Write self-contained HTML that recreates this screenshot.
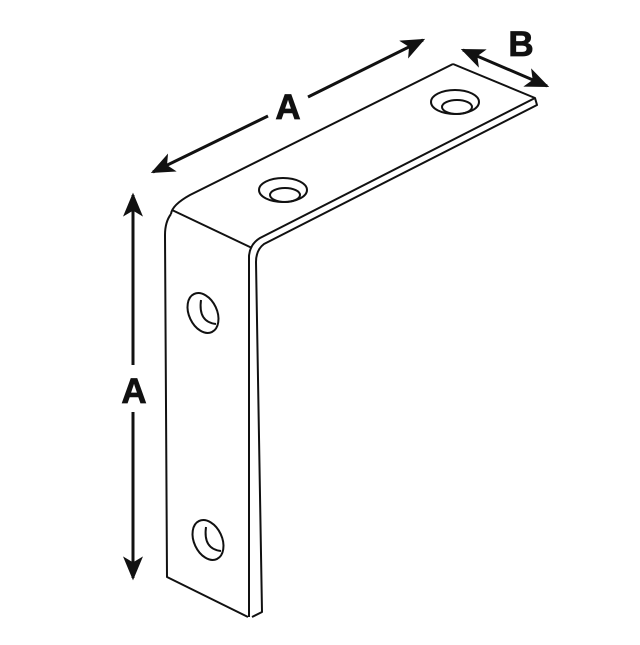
<!DOCTYPE html>
<html><head><style>body{margin:0;background:#fff}</style></head><body>
<svg width="640" height="640" viewBox="0 0 640 640" xmlns="http://www.w3.org/2000/svg">
<defs>
<marker id="ah" viewBox="0 0 10 10" refX="9" refY="5" markerWidth="24" markerHeight="20" orient="auto-start-reverse" markerUnits="userSpaceOnUse" preserveAspectRatio="none">
<path d="M0,0 L10,5 L0,10 L2.5,5 Z" fill="#111"/></marker>
</defs>
<rect width="640" height="640" fill="#fff"/>
<g fill="none" stroke="#111" stroke-width="2" stroke-linejoin="round">
<path d="M453,64 L535,98 L537,105 L264,244 Q256,250 256,262 L262,612 L252,617"/>
<path d="M535,98 L260,238 Q250,244 249,256 L249,617"/>
<path d="M453,64 L190,195 Q172,205 171,214"/>
<path d="M172,210 L252,248"/>
<path d="M171,214 Q165,222 165,235 L167,577 L248,617"/>
<ellipse cx="283" cy="190" rx="24" ry="12"/>
<ellipse cx="285" cy="195" rx="15" ry="7"/>
<ellipse cx="455" cy="102" rx="24" ry="12"/>
<ellipse cx="457" cy="107" rx="15" ry="7"/>
<ellipse cx="203" cy="313" rx="14" ry="21" transform="rotate(-25 203 313)"/>
<path d="M201,300 Q198,322 216,324"/>
<ellipse cx="208" cy="540" rx="14" ry="21" transform="rotate(-25 208 540)"/>
<path d="M206,527 Q203,549 221,551"/>
</g>
<g stroke="#111" stroke-width="3">
<line x1="153" y1="172" x2="268" y2="116" marker-start="url(#ah)"/>
<line x1="308" y1="97" x2="423" y2="40" marker-end="url(#ah)"/>
<line x1="133" y1="195" x2="133" y2="365" marker-start="url(#ah)"/>
<line x1="133" y1="412" x2="133" y2="578" marker-end="url(#ah)"/>
<line x1="463" y1="50" x2="547" y2="86" marker-start="url(#ah)" marker-end="url(#ah)"/>
</g>
<g font-family="Liberation Sans, sans-serif" font-weight="bold" font-size="35" fill="#111" text-anchor="middle" stroke="#111" stroke-width="0.8">
<text x="288" y="119">A</text>
<text x="134" y="403">A</text>
<text x="521" y="56">B</text>
</g>
</svg>
</body></html>
